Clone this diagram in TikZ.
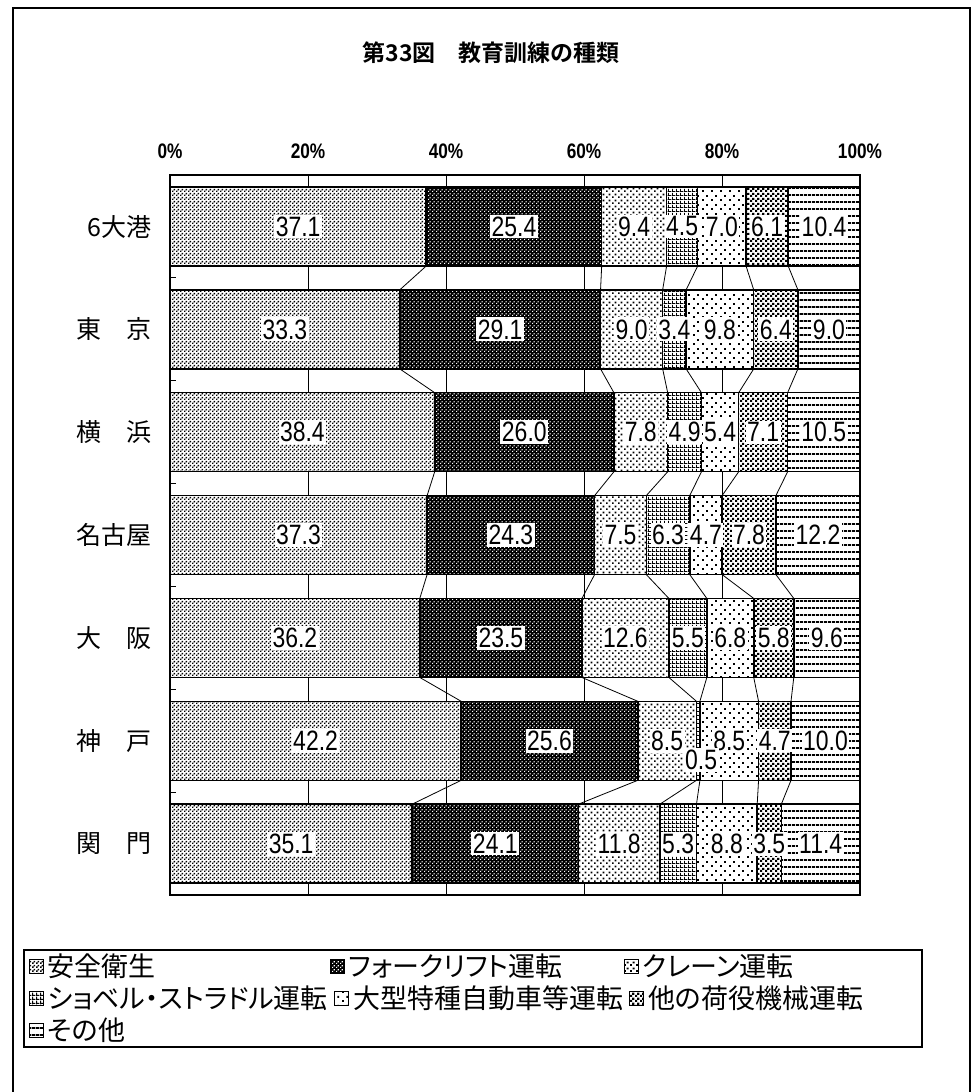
\documentclass[tikz,border=0pt]{standalone}
\usepackage{fontspec}
\setmainfont{Noto Sans CJK JP}[BoldFont={Noto Sans CJK JP Bold}]
\newfontfamily\numfont{Liberation Sans}[FakeStretch=0.82]
\newfontfamily\keyfont{Noto Sans CJK JP}[RawFeature=+palt]
\usetikzlibrary{patterns,positioning}

\pgfdeclarepatternformonly{safedots}{\pgfpointorigin}{\pgfpoint{4pt}{4pt}}{\pgfpoint{4pt}{4pt}}{%
  \pgfpathrectangle{\pgfpointorigin}{\pgfpoint{1.8pt}{1.8pt}}%
  \pgfpathrectangle{\pgfpoint{2pt}{2pt}}{\pgfpoint{1.8pt}{1.8pt}}%
  \pgfusepath{fill}}
\pgfdeclarepatternformonly{forkholes}{\pgfpointorigin}{\pgfpoint{4pt}{4pt}}{\pgfpoint{4pt}{4pt}}{%
  \pgfpathrectangle{\pgfpointorigin}{\pgfpoint{1.4pt}{1.4pt}}%
  \pgfpathrectangle{\pgfpoint{2pt}{2pt}}{\pgfpoint{1.4pt}{1.4pt}}%
  \pgfusepath{fill}}
\pgfdeclarepatternformonly{cranedots}{\pgfpointorigin}{\pgfpoint{6pt}{6pt}}{\pgfpoint{6pt}{6pt}}{%
  \pgfpathrectangle{\pgfpointorigin}{\pgfpoint{2pt}{2pt}}%
  \pgfpathrectangle{\pgfpoint{3pt}{3pt}}{\pgfpoint{2pt}{2pt}}%
  \pgfusepath{fill}}
\pgfdeclarepatternformonly{shovelgrid}{\pgfpointorigin}{\pgfpoint{4pt}{4pt}}{\pgfpoint{4pt}{4pt}}{%
  \pgfpathrectangle{\pgfpointorigin}{\pgfpoint{4pt}{1.2pt}}%
  \pgfpathrectangle{\pgfpointorigin}{\pgfpoint{1.2pt}{4pt}}%
  \pgfusepath{fill}}
\pgfdeclarepatternformonly{truckdots}{\pgfpointorigin}{\pgfpoint{9pt}{9pt}}{\pgfpoint{9pt}{9pt}}{%
  \pgfpathrectangle{\pgfpointorigin}{\pgfpoint{2pt}{2pt}}%
  \pgfpathrectangle{\pgfpoint{4.5pt}{4.5pt}}{\pgfpoint{2pt}{2pt}}%
  \pgfusepath{fill}}
\pgfdeclarepatternformonly{cargocheck}{\pgfpointorigin}{\pgfpoint{5pt}{5pt}}{\pgfpoint{5pt}{5pt}}{%
  \pgfpathrectangle{\pgfpointorigin}{\pgfpoint{2.5pt}{2.5pt}}%
  \pgfpathrectangle{\pgfpoint{2.5pt}{2.5pt}}{\pgfpoint{2.5pt}{2.5pt}}%
  \pgfusepath{fill}}
\pgfdeclarepatternformonly{otherlines}{\pgfpointorigin}{\pgfpoint{4pt}{7pt}}{\pgfpoint{4pt}{7pt}}{%
  \pgfpathrectangle{\pgfpointorigin}{\pgfpoint{4pt}{2pt}}%
  \pgfusepath{fill}}

\tikzset{
  pat1/.style={preaction={fill=white}, pattern=safedots},
  pat2/.style={preaction={fill=black}, pattern=forkholes, pattern color=white},
  pat3/.style={preaction={fill=white}, pattern=cranedots},
  pat4/.style={preaction={fill=white}, pattern=shovelgrid},
  pat5/.style={preaction={fill=white}, pattern=truckdots},
  pat6/.style={preaction={fill=white}, pattern=cargocheck},
  pat7/.style={preaction={fill=white}, pattern=otherlines},
  seg/.style={draw, line width=1.5pt, inner sep=0pt, outer sep=0pt, minimum height=79pt, anchor=north west},
  vlbl/.style={fill=white, inner xsep=1.5pt, inner ysep=2pt, font=\numfont\fontsize{28}{30}\selectfont},
  catlbl/.style={anchor=east, inner sep=0pt, font=\fontsize{25}{28}\selectfont},
  pctlbl/.style={font=\numfont\bfseries\fontsize{21}{24}\selectfont},
  gridline/.style={line width=1pt},
  serline/.style={line width=0.8pt},
  key/.style={draw, line width=0.8pt, inner sep=0pt, minimum size=14pt},
  keytxt/.style={inner sep=0pt, font=\keyfont\fontsize{27}{30}\selectfont}
}

\begin{document}
\begin{tikzpicture}[x=1pt, y=-1pt]
            \useasboundingbox (0,0) rectangle (978,1092);
            \draw[line width=1.5pt] (13,8) rectangle (970,1120);

            \node (title) at (491,53) [font=\bfseries\fontsize{23}{27}\selectfont] {第33図　教育訓練の種類};

            \foreach \p [count=\i from 0] in {0,20,...,100}
                \node (p-\i) at ({170+6.9*\p},151) [pctlbl] {\p\%};
            \foreach \p in {20,40,60,80}
                \draw[gridline] ({170+6.9*\p},175) -- ({170+6.9*\p},895);
            \foreach \k in {1,...,6}
                \draw[gridline] (170,{175+102.86*\k}) -- ++(6,0);

            \foreach \cat/\vals [count=\r from 0] in {6大港/{37.1,25.4,9.4,4.5,7.0,6.1,10.4},東　京/{33.3,29.1,9.0,3.4,9.8,6.4,9.0},横　浜/{38.4,26.0,7.8,4.9,5.4,7.1,10.5},名古屋/{37.3,24.3,7.5,6.3,4.7,7.8,12.2},大　阪/{36.2,23.5,12.6,5.5,6.8,5.8,9.6},神　戸/{42.2,25.6,8.5,0.5,8.5,4.7,10.0},関　門/{35.1,24.1,11.8,5.3,8.8,3.5,11.4}} {
                \pgfmathsetmacro\ytop{187+102.86*\r}
                \node (c-\r) at (152,\ytop+39.5) [catlbl] {\cat};
                \gdef\tot{0}
                \foreach \v in \vals {\pgfmathparse{\tot+\v}\xdef\tot{\pgfmathresult}}
                \gdef\cum{0}
                \foreach \v [count=\s] in \vals {
                    \pgfmathsetmacro\xa{170+\cum/\tot*690}
                    \pgfmathsetmacro\segw{\v/\tot*690}
                    \node (s-\r-\s) at (\xa,\ytop) [seg, pat\s, minimum width=\segw pt] {};
                    \pgfmathparse{\cum+\v}\xdef\cum{\pgfmathresult}
                }
                \foreach \v [count=\s] in \vals {
                    \ifdim\v pt>1pt
                        \node (v-\r-\s) at (s-\r-\s) [vlbl] {\v};
                    \fi
                }
            }
            \node (v-5-4) at (s-5-4) [vlbl, xshift=3pt, yshift=-19pt] {0.5};

            \foreach \r [evaluate=\r as \n using int(\r+1)] in {0,...,5}
                \foreach \s in {1,...,6}
                    \draw[serline] (s-\r-\s.south east) -- (s-\n-\s.north east);

            \draw[line width=1.5pt] (170,175) rectangle (860,895);

            \draw[line width=1.5pt] (24,950) rectangle (922,1047);
            \node (k1) at (36,966) [key, pat1] {};
            \node (t1) [keytxt, right=4pt of k1] {安全衛生};
            \node (k2) at (337,966) [key, pat2] {};
            \node (t2) [keytxt, right=4pt of k2] {フォークリフト運転};
            \node (k3) at (631,966) [key, pat3] {};
            \node (t3) [keytxt, right=4pt of k3] {クレーン運転};
            \node (k4) at (36,998) [key, pat4] {};
            \node (t4) [keytxt, right=4pt of k4] {ショベル・ストラドル運転};
            \node (k5) [key, pat5, right=6pt of t4] {};
            \node (t5) [keytxt, right=4pt of k5] {大型特種自動車等運転};
            \node (k6) [key, pat6, right=6pt of t5] {};
            \node (t6) [keytxt, right=4pt of k6] {他の荷役機械運転};
            \node (k7) at (36,1030) [key, pat7] {};
            \node (t7) [keytxt, right=4pt of k7] {その他};

        \end{tikzpicture}
\end{document}
